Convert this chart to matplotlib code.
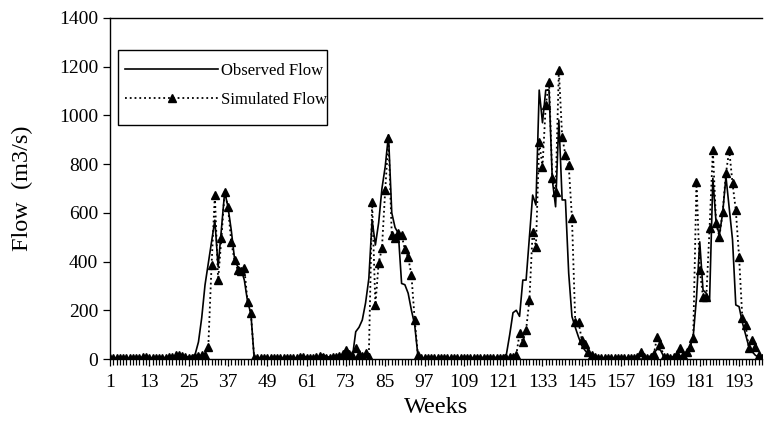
import matplotlib
matplotlib.use("Agg")
import matplotlib.pyplot as plt
from matplotlib.patches import Rectangle
import numpy as np

plt.rcParams["font.family"] = "Liberation Serif"

# weekly flow (m3/s), weeks 1..200
observed_flow = [
    3, 4, 3, 3, 4, 3, 4, 3, 4, 5,
    8, 12, 6, 4, 3, 4, 5, 6, 8, 10,
    14, 16, 12, 10, 8, 10, 20, 70, 170, 304,
    393, 480, 570, 378, 530, 687, 625, 530, 413, 378,
    370, 324, 235, 187, 5, 4, 3, 3, 4, 3,
    4, 3, 4, 5, 4, 3, 4, 5, 8, 12,
    8, 5, 4, 6, 10, 18, 10, 8, 10, 12,
    15, 18, 14, 10, 10, 112, 130, 160, 230, 330,
    571, 468, 560, 700, 790, 920, 600, 540, 516, 310,
    305, 270, 200, 140, 10, 5, 4, 3, 3, 4,
    3, 4, 3, 3, 4, 3, 4, 3, 4, 5,
    4, 5, 4, 5, 6, 5, 6, 7, 6, 8,
    10, 20, 100, 190, 200, 175, 324, 324, 500, 673,
    632, 1104, 970, 1104, 1104, 735, 625, 981, 653, 653,
    352, 174, 130, 90, 55, 35, 20, 10, 5, 4,
    3, 3, 4, 3, 3, 4, 3, 3, 4, 4,
    5, 8, 15, 10, 8, 12, 25, 40, 37, 10,
    8, 6, 8, 10, 12, 10, 20, 50, 92, 250,
    481, 283, 270, 242, 742, 557, 510, 600, 748, 620,
    490, 222, 215, 150, 100, 50, 30, 15, 8, 3,
]

simulated_flow = [
    5, 4, 5, 4, 5, 4, 5, 4, 5, 6,
    10, 8, 6, 5, 4, 5, 6, 5, 8, 10,
    15, 18, 12, 8, 6, 5, 8, 12, 15, 18,
    51, 386, 673, 324, 495, 687, 625, 481, 406, 365,
    360, 372, 235, 187, 5, 4, 5, 4, 5, 4,
    5, 4, 5, 4, 5, 4, 5, 6, 10, 8,
    6, 5, 6, 8, 12, 10, 6, 5, 8, 10,
    12, 20, 37, 20, 15, 44, 20, 12, 24, 10,
    646, 222, 395, 454, 694, 906, 509, 495, 516, 509,
    450, 417, 345, 160, 15, 5, 4, 5, 4, 5,
    4, 5, 4, 5, 4, 5, 4, 5, 4, 5,
    5, 4, 5, 4, 5, 6, 5, 6, 5, 6,
    5, 6, 8, 10, 16, 105, 71, 119, 242, 522,
    461, 892, 789, 1043, 1138, 742, 687, 1186, 913, 837,
    796, 578, 153, 153, 78, 60, 30, 15, 8, 5,
    4, 5, 4, 5, 4, 5, 4, 5, 4, 5,
    6, 8, 30, 10, 6, 8, 20, 92, 60, 10,
    8, 6, 10, 20, 44, 15, 30, 51, 85, 728,
    365, 256, 256, 537, 858, 557, 502, 605, 762, 858,
    721, 612, 420, 167, 140, 44, 78, 51, 16, 5,
]

weeks = np.arange(1, len(observed_flow) + 1)
week_labels = list(range(1, 194, 12))
y_ticks = list(range(0, 1401, 200))

fig = plt.figure(figsize=(7.64, 4.22), dpi=100)
ax = fig.add_axes([110 / 764, 1 - 359 / 422, 652 / 764, 341 / 422])

ax.plot(weeks, observed_flow, color="black", lw=1.2, label="Observed Flow")
ax.plot(weeks, simulated_flow, color="black", lw=1.3, ls=":",
        marker="^", markersize=5.5, label="Simulated Flow")

ax.set_xlim(1, len(weeks))
ax.set_ylim(0, 1400)
ax.set_xticks(week_labels)
ax.set_xticks(weeks, minor=True)
ax.set_yticks(y_ticks)
ax.tick_params(axis="both", which="major", labelsize=14, length=5,
               width=0.9, direction="out")
ax.tick_params(axis="x", which="minor", length=4, width=0.9, direction="out")
ax.tick_params(axis="x", pad=6)

ax.spines["right"].set_visible(False)
for s in ("left", "bottom", "top"):
    ax.spines[s].set_linewidth(1.0)

ax.set_xlabel("Weeks", fontsize=17.5, labelpad=4)
ax.set_ylabel("Flow  (m3/s)", fontsize=17.5, labelpad=19)

# legend without its own frame; box drawn separately (excel-like padding)
leg = ax.legend(loc="center left", bbox_to_anchor=(0.023, 0.802),
                borderaxespad=0, borderpad=0, fontsize=12,
                handlelength=5.6, handletextpad=0.15, labelspacing=0.75,
                frameon=False)
ax.add_patch(Rectangle((0.0123, 0.686), 0.3205, 0.22, transform=ax.transAxes,
                       fill=False, edgecolor="black", lw=1.0, zorder=5))

fig.savefig("out.png", dpi=100)
